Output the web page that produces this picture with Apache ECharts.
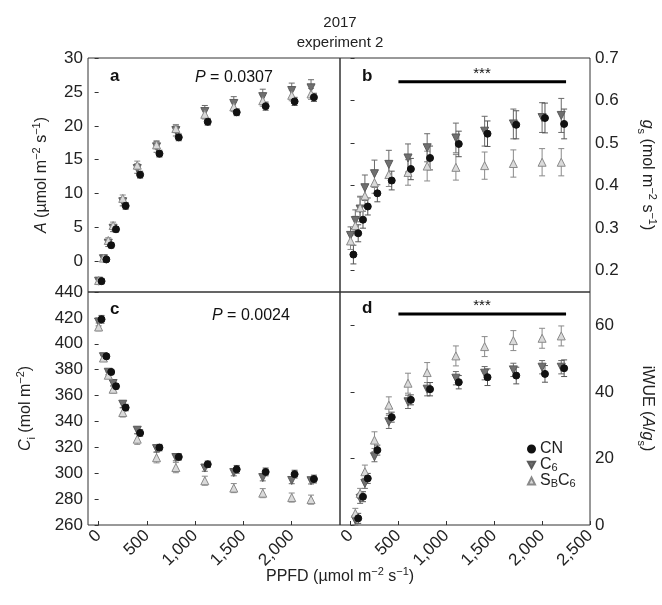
<!DOCTYPE html>
<html>
<head>
<meta charset="utf-8">
<script src="https://cdn.jsdelivr.net/npm/echarts@6/dist/echarts.min.js"></script>
<style>
  html, body { margin: 0; padding: 0; background: #fff; }
  #chart { width: 662px; height: 605px; }
</style>
</head>
<body>
<div id="chart"></div>
<script>
// light levels (PPFD, µmol m-2 s-1)
const ppfd = [0, 50, 100, 150, 250, 400, 600, 800, 1100, 1400, 1700, 2000, 2200]
const ppfdWue = [50, 100, 150, 250, 400, 600, 800, 1100, 1400, 1700, 2000, 2200]

// a: net assimilation A
const aCN = [-2.9, 0.3, 2.4, 4.75, 8.2, 12.8, 15.9, 18.3, 20.6, 22.0, 22.9, 23.6, 24.2]
const aC6 = [-2.9, 0.4, 2.7, 4.9, 8.8, 13.7, 16.9, 19.3, 22.1, 23.3, 24.3, 25.2, 25.6]
const aSB = [-2.8, 0.5, 3.1, 5.3, 9.3, 14.2, 17.2, 19.6, 21.7, 22.8, 23.7, 24.5, 24.7]
const aErrCN = [0.4, 0.3, 0.4, 0.4, 0.5, 0.5, 0.5, 0.5, 0.5, 0.5, 0.6, 0.6, 0.6]
const aErrC6 = [0.5, 0.4, 0.5, 0.5, 0.6, 0.7, 0.8, 0.8, 0.9, 1.0, 1.1, 1.1, 1.2]
const aErrSB = [0.4, 0.4, 0.4, 0.5, 0.5, 0.6, 0.6, 0.6, 0.7, 0.7, 0.8, 0.8, 0.8]

// b: stomatal conductance gs
const gCN = [0.238, 0.288, 0.320, 0.351, 0.382, 0.412, 0.439, 0.465, 0.498, 0.522, 0.543, 0.559, 0.545]
const gC6 = [0.283, 0.318, 0.345, 0.395, 0.428, 0.450, 0.465, 0.489, 0.512, 0.528, 0.545, 0.560, 0.565]
const gSB = [0.270, 0.306, 0.348, 0.376, 0.407, 0.426, 0.431, 0.446, 0.443, 0.447, 0.452, 0.455, 0.455]
const gErrCN = [0.022, 0.02, 0.02, 0.02, 0.02, 0.022, 0.025, 0.028, 0.03, 0.03, 0.033, 0.035, 0.035]
const gErrC6 = [0.02, 0.025, 0.03, 0.03, 0.032, 0.033, 0.033, 0.033, 0.035, 0.035, 0.035, 0.035, 0.04]
const gErrSB = [0.02, 0.022, 0.025, 0.025, 0.025, 0.028, 0.03, 0.035, 0.03, 0.032, 0.032, 0.032, 0.032]

// c: intercellular CO2 Ci
const cCN = [418.9, 390.3, 378.2, 367.2, 350.7, 331.1, 319.8, 312.6, 306.9, 303.0, 301.0, 299.3, 295.5]
const cC6 = [416.8, 390.0, 378.0, 369.3, 353.3, 333.2, 319.0, 312.1, 304.0, 300.5, 296.6, 294.4, 294.2]
const cSB = [413.0, 389.0, 375.7, 364.9, 346.9, 326.3, 312.0, 304.4, 294.2, 288.5, 284.6, 281.2, 279.6]
const cErrCN = [3, 2, 2, 2, 2.5, 2.5, 2.5, 2.5, 2.5, 3, 3, 3, 3]
const cErrC6 = [3, 2, 2, 2, 2.5, 2.5, 2.5, 2.5, 2.5, 2.5, 2.5, 2.5, 2.5]
const cErrSB = [3, 2, 2.5, 3, 3.5, 4, 4, 4, 3.5, 3.5, 3.5, 3.5, 3.5]

// d: intrinsic water use efficiency A/gs
const wCN = [2.0, 8.5, 14.0, 22.5, 32.4, 37.6, 40.8, 42.9, 44.4, 44.9, 45.4, 47.1]
const wC6 = [1.5, 8.0, 12.5, 20.5, 31.0, 37.0, 40.8, 44.1, 45.6, 46.6, 47.4, 47.4]
const wSB = [3.5, 9.5, 16.0, 25.5, 36.0, 42.6, 45.8, 50.8, 53.6, 55.4, 56.1, 56.8]
const wErrCN = [1.5, 1.5, 1.5, 1.5, 1.5, 1.5, 2, 2, 2.5, 2.5, 2.5, 2.5]
const wErrC6 = [1.5, 1.5, 1.5, 1.5, 2, 2, 2, 2, 2, 2, 2, 2]
const wErrSB = [1.5, 1.5, 2, 2.5, 2.5, 3, 3, 3, 3, 3, 3, 3]

// significance bars (*** in b and d)
const sigX = [500, 2250]
const sigYgs = 0.644
const sigYwue = 63.4

const FONT = 'Liberation Sans, Arial, sans-serif'
const cnDodge = 30   // CN points sit slightly right of the triangles

const chart = echarts.init(document.getElementById('chart'))

// rich text styles for axis names
const nameRich = {
  it: { fontStyle: 'italic', fontSize: 16, fontFamily: FONT, color: '#222', lineHeight: 22 },
  sup: { fontSize: 11, fontFamily: FONT, color: '#222', lineHeight: 12, verticalAlign: 'top' },
  sub: { fontSize: 11, fontFamily: FONT, color: '#222', lineHeight: 8, verticalAlign: 'bottom' }
}
const nameStyle = { fontSize: 16, fontFamily: FONT, color: '#222', lineHeight: 22, rich: nameRich }

const downTriangle = 'path://M0,0 L10,0 L5,9 Z'

const treatments = [
  { name: 'C6', symbol: 'triangle', rotate: 180, size: 8, color: '#707070', border: '#5a5a5a', bar: '#6a6a6a', dodge: 0, z: 4 },
  { name: 'SBC6', symbol: 'triangle', rotate: 0, size: 8, color: '#dadada', border: '#8a8a8a', bar: '#8a8a8a', dodge: 0, z: 5 },
  { name: 'CN', symbol: 'circle', rotate: 0, size: 7, color: '#111111', border: '#111111', bar: '#555555', dodge: cnDodge, z: 6 }
]

const panels = [
  { xs: ppfd, vals: { CN: aCN, C6: aC6, SBC6: aSB }, errs: { CN: aErrCN, C6: aErrC6, SBC6: aErrSB } },
  { xs: ppfd, vals: { CN: gCN, C6: gC6, SBC6: gSB }, errs: { CN: gErrCN, C6: gErrC6, SBC6: gErrSB } },
  { xs: ppfd, vals: { CN: cCN, C6: cC6, SBC6: cSB }, errs: { CN: cErrCN, C6: cErrC6, SBC6: cErrSB } },
  { xs: ppfdWue, vals: { CN: wCN, C6: wC6, SBC6: wSB }, errs: { CN: wErrCN, C6: wErrC6, SBC6: wErrSB } }
]

// error bar series drawn with custom renderItem
function errorSeries(idx, xs, ys, es, t) {
  return {
    type: 'custom',
    xAxisIndex: idx,
    yAxisIndex: idx,
    silent: true,
    z: t.z - 3,
    data: ys.map((y, i) => [xs[i] + t.dodge, y, es[i]]),
    encode: { x: 0, y: 1 },
    renderItem: function (params, api) {
      const x = api.value(0), y = api.value(1), e = api.value(2)
      const lo = api.coord([x, y - e])
      const hi = api.coord([x, y + e])
      const w = 3
      const st = { stroke: t.bar, lineWidth: 1 }
      return {
        type: 'group',
        children: [
          { type: 'line', shape: { x1: lo[0], y1: lo[1], x2: hi[0], y2: hi[1] }, style: st },
          { type: 'line', shape: { x1: lo[0] - w, y1: lo[1], x2: lo[0] + w, y2: lo[1] }, style: st },
          { type: 'line', shape: { x1: hi[0] - w, y1: hi[1], x2: hi[0] + w, y2: hi[1] }, style: st }
        ]
      }
    }
  }
}

const series = []
panels.forEach((p, idx) => {
  treatments.forEach(t => {
    series.push(errorSeries(idx, p.xs, p.vals[t.name], p.errs[t.name], t))
  })
  treatments.forEach(t => {
    series.push({
      name: t.name,
      type: 'scatter',
      xAxisIndex: idx,
      yAxisIndex: idx,
      symbol: t.symbol,
      symbolRotate: t.rotate,
      symbolSize: t.size,
      z: t.z,
      itemStyle: { color: t.color, borderColor: t.border, borderWidth: 1, opacity: 1 },
      data: p.vals[t.name].map((v, i) => [p.xs[i] + t.dodge, v])
    })
  })
})

// significance bars
;[[1, sigYgs], [3, sigYwue]].forEach(([idx, y]) => {
  series.push({
    type: 'line',
    xAxisIndex: idx,
    yAxisIndex: idx,
    symbol: 'none',
    silent: true,
    lineStyle: { color: '#000', width: 3 },
    data: sigX.map(x => [x, y])
  })
})

const fmtThousands = v => v >= 1000 ? String(v).replace(/\B(?=(\d{3})+(?!\d))/g, ',') : String(v)

function xAxis(idx, labels) {
  const shown = labels.length > 0
  return {
    type: 'value',
    gridIndex: idx,
    min: -110,
    max: 2500,
    axisLine: { show: false },
    splitLine: { show: false },
    axisTick: {
      show: shown, inside: true, length: 4,
      lineStyle: { color: '#333' },
      customValues: labels
    },
    axisLabel: {
      show: shown,
      customValues: labels,
      rotate: 45,
      margin: 8,
      fontSize: 17,
      fontFamily: FONT,
      color: '#222',
      formatter: fmtThousands
    }
  }
}

function yAxis(idx, opts) {
  return Object.assign({
    type: 'value',
    gridIndex: idx,
    axisLine: { show: false },
    splitLine: { show: false },
    nameLocation: 'middle',
    nameTextStyle: nameStyle,
    axisTick: { show: true, inside: false, length: 4, lineStyle: { color: '#333' }, customValues: opts.ticks },
    axisLabel: { customValues: opts.ticks, fontSize: 17, fontFamily: FONT, color: '#222', margin: 5 }
  }, opts.extra)
}

const option = {
  animation: false,
  backgroundColor: '#fff',
  title: {
    text: 'PPFD (µmol m{sup|−2} s{sup|−1})',
    left: 266,
    top: 566,
    padding: 0,
    textStyle: {
      fontSize: 16, fontWeight: 'normal', fontFamily: FONT, color: '#222', lineHeight: 22,
      rich: { sup: { fontSize: 11, fontFamily: FONT, color: '#222', lineHeight: 12, verticalAlign: 'top' } }
    }
  },
  grid: [
    { left: 88, top: 58, width: 252, height: 234, show: true, borderColor: '#333', borderWidth: 1, backgroundColor: 'transparent' },
    { left: 340, top: 58, width: 250, height: 234, show: true, borderColor: '#333', borderWidth: 1, backgroundColor: 'transparent' },
    { left: 88, top: 292, width: 252, height: 233, show: true, borderColor: '#333', borderWidth: 1, backgroundColor: 'transparent' },
    { left: 340, top: 292, width: 250, height: 233, show: true, borderColor: '#333', borderWidth: 1, backgroundColor: 'transparent' }
  ],
  xAxis: [
    xAxis(0, []),
    xAxis(1, []),
    xAxis(2, [0, 500, 1000, 1500, 2000]),
    xAxis(3, [0, 500, 1000, 1500, 2000, 2500])
  ],
  yAxis: [
    yAxis(0, {
      ticks: [0, 5, 10, 15, 20, 25, 30],
      extra: { min: -4.5, max: 30, position: 'left', name: '{it|A} (µmol m{sup|−2} s{sup|−1})', nameGap: 35 }
    }),
    yAxis(1, {
      ticks: [0.2, 0.3, 0.4, 0.5, 0.6, 0.7],
      extra: { min: 0.15, max: 0.7, position: 'right', name: '{it|g}{sub|s} (mol m{sup|−2} s{sup|−1})', nameGap: 46, nameRotate: -90 }
    }),
    yAxis(2, {
      ticks: [260, 280, 300, 320, 340, 360, 380, 400, 420, 440],
      extra: { min: 260, max: 440, position: 'left', name: '{it|C}{sub|i} (mol m{sup|−2})', nameGap: 51 }
    }),
    yAxis(3, {
      ticks: [0, 20, 40, 60],
      extra: { min: 0, max: 70, position: 'right', name: 'iWUE ({it|A}/{it|g}{sub|s})', nameGap: 46, nameRotate: -90 }
    })
  ],
  legend: {
    data: [
      { name: 'CN', icon: 'circle' },
      { name: 'C6', icon: downTriangle },
      { name: 'SBC6', icon: 'triangle' }
    ],
    orient: 'vertical',
    left: 522,
    top: 436,
    itemWidth: 7,
    itemHeight: 7,
    itemGap: 0,
    selectedMode: false,
    formatter: function (name) {
      if (name === 'C6') return 'C{sub|6}'
      if (name === 'SBC6') return 'S{sub|B}C{sub|6}'
      return name
    },
    textStyle: {
      fontSize: 16, fontFamily: FONT, color: '#222', lineHeight: 16,
      rich: { sub: { fontSize: 11, fontFamily: FONT, color: '#222', lineHeight: 6, verticalAlign: 'bottom' } }
    }
  },
  graphic: [
    { type: 'text', x: 340, y: 23, style: { text: '2017', fontSize: 15, fontFamily: FONT, fill: '#222', textAlign: 'center', textVerticalAlign: 'middle' } },
    { type: 'text', x: 340, y: 43, style: { text: 'experiment 2', fontSize: 15, fontFamily: FONT, fill: '#222', textAlign: 'center', textVerticalAlign: 'middle' } },
    { type: 'text', x: 110, y: 76, style: { text: 'a', fontSize: 17, fontWeight: 'bold', fontFamily: FONT, fill: '#111', textVerticalAlign: 'middle' } },
    { type: 'text', x: 362, y: 76, style: { text: 'b', fontSize: 17, fontWeight: 'bold', fontFamily: FONT, fill: '#111', textVerticalAlign: 'middle' } },
    { type: 'text', x: 110, y: 309, style: { text: 'c', fontSize: 17, fontWeight: 'bold', fontFamily: FONT, fill: '#111', textVerticalAlign: 'middle' } },
    { type: 'text', x: 362, y: 308, style: { text: 'd', fontSize: 17, fontWeight: 'bold', fontFamily: FONT, fill: '#111', textVerticalAlign: 'middle' } },
    { type: 'text', x: 195, y: 78, style: { text: '{i|P} = 0.0307', fontSize: 16, fontFamily: FONT, fill: '#111', textVerticalAlign: 'middle', rich: { i: { fontStyle: 'italic', fontSize: 16, fontFamily: FONT, fill: '#111' } } } },
    { type: 'text', x: 212, y: 316, style: { text: '{i|P} = 0.0024', fontSize: 16, fontFamily: FONT, fill: '#111', textVerticalAlign: 'middle', rich: { i: { fontStyle: 'italic', fontSize: 16, fontFamily: FONT, fill: '#111' } } } },
    { type: 'text', x: 482, y: 74, style: { text: '***', fontSize: 15, fontFamily: FONT, fill: '#111', textAlign: 'center', textVerticalAlign: 'middle' } },
    { type: 'text', x: 482, y: 306, style: { text: '***', fontSize: 15, fontFamily: FONT, fill: '#111', textAlign: 'center', textVerticalAlign: 'middle' } }
  ],
  series: series
}

chart.setOption(option)
</script>
</body>
</html>
